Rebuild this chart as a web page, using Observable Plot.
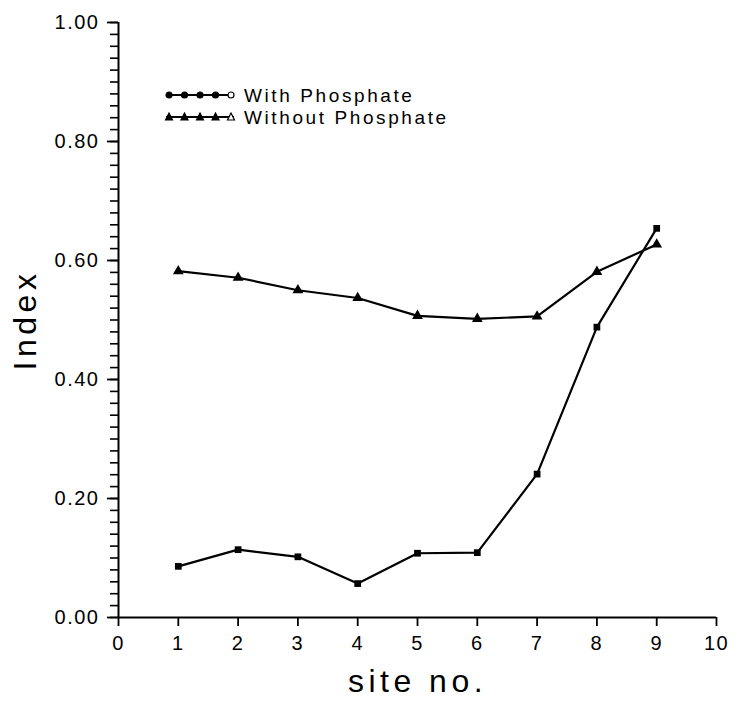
<!DOCTYPE html>
<html>
<head>
<meta charset="utf-8">
<script src="https://cdn.jsdelivr.net/npm/d3@7"></script>
<script src="https://cdn.jsdelivr.net/npm/@observablehq/plot@0.6"></script>
<style>
  body { margin: 0; background: #fff; }
  #wrap { position: relative; width: 739px; height: 704px; font-family: "Liberation Sans", Arial, sans-serif; }
  #wrap svg text { letter-spacing: 1.5px; }
  #wrap svg g[font-size="32"] text { letter-spacing: 4.5px; }
  #legend { position: absolute; left: 164px; top: 84px; font-size: 19px; letter-spacing: 2.6px; color: #000; line-height: 21px; }
  #legend .row { display: flex; align-items: center; height: 22px; }
  #legend svg { margin-right: 8px; }
</style>
</head>
<body>
<div id="wrap">
  <div id="legend"></div>
</div>
<script>
// ---- data ----
const sites = [1, 2, 3, 4, 5, 6, 7, 8, 9];
const withPhosphate = [0.086, 0.114, 0.102, 0.057, 0.108, 0.109, 0.241, 0.488, 0.654];
const withoutPhosphate = [0.582, 0.571, 0.550, 0.537, 0.507, 0.502, 0.506, 0.581, 0.627];
const seriesNames = ["With Phosphate", "Without Phosphate"];
const seriesSymbols = ["square", "triangle"];
const xTicks = [0, 1, 2, 3, 4, 5, 6, 7, 8, 9, 10];
const yMajorTicks = [0, 0.2, 0.4, 0.6, 0.8, 1.0];
const yTickLabels = ["0.00", "0.20", "0.40", "0.60", "0.80", "1.00"];
const yMinorTicks = d3.range(0, 51).map(i => i / 50);
const xLabel = "site no.";
const yLabel = "Index";

const rows = [];
sites.forEach((s, i) => {
  rows.push({site: s, value: withPhosphate[i], series: seriesNames[0]});
  rows.push({site: s, value: withoutPhosphate[i], series: seriesNames[1]});
});

const font = "'Liberation Sans', Arial, sans-serif";

const chart = Plot.plot({
  width: 739,
  height: 704,
  marginLeft: 118,
  marginRight: 23,
  marginTop: 22,
  marginBottom: 87,
  style: {fontFamily: font, background: "#fff", color: "#000"},
  x: {domain: [0, 10]},
  y: {domain: [0, 1]},
  marks: [
    Plot.axisY({ticks: yMinorTicks, tickSize: 8, tickFormat: () => "", label: null, strokeWidth: 1.6}),
    Plot.axisY({ticks: yMajorTicks, tickSize: 11, tickPadding: 8, label: null, fontSize: 20,
      tickFormat: d => yTickLabels[yMajorTicks.findIndex(t => Math.abs(t - d) < 1e-9)], strokeWidth: 1.8}),
    Plot.axisX({ticks: xTicks, tickSize: 9, tickPadding: 9, label: null, fontSize: 20, tickFormat: d => String(d), strokeWidth: 1.8}),
    Plot.ruleX([0], {stroke: "#000", strokeWidth: 2}),
    Plot.ruleY([0], {stroke: "#000", strokeWidth: 2}),
    Plot.line(rows, {x: "site", y: "value", z: "series", stroke: "#000", strokeWidth: 2.2}),
    Plot.dot(rows.filter(d => d.series === seriesNames[0]), {x: "site", y: "value", symbol: "square", r: 3.8, fill: "#000"}),
    Plot.dot(rows.filter(d => d.series === seriesNames[1]), {x: "site", y: "value", symbol: "triangle", r: 4, fill: "#000"}),
    Plot.text([xLabel], {text: d => d, frameAnchor: "bottom", dy: 74, fontSize: 32, fill: "#000"}),
    Plot.text([yLabel], {text: d => d, frameAnchor: "left", textAnchor: "middle", dx: -93, rotate: -90, fontSize: 32, fill: "#000"})
  ]
});
document.getElementById("wrap").prepend(chart);

// ---- legend (HTML overlay inside plot area) ----
const legend = document.getElementById("legend");
seriesNames.forEach((name, k) => {
  const row = document.createElement("div");
  row.className = "row";
  const sym = seriesSymbols[k];
  const ns = "http://www.w3.org/2000/svg";
  const s = document.createElementNS(ns, "svg");
  s.setAttribute("width", 72);
  s.setAttribute("height", 12);
  const ln = document.createElementNS(ns, "line");
  ln.setAttribute("x1", 2); ln.setAttribute("x2", 70);
  ln.setAttribute("y1", 6); ln.setAttribute("y2", 6);
  ln.setAttribute("stroke", "#000"); ln.setAttribute("stroke-width", 2);
  s.appendChild(ln);
  for (let j = 0; j < 5; j++) {
    const cx = 5 + j * 15.5;
    let m;
    if (sym === "square") {
      m = document.createElementNS(ns, "circle");
      m.setAttribute("cx", cx); m.setAttribute("cy", 6); m.setAttribute("r", 3);
    } else {
      m = document.createElementNS(ns, "path");
      m.setAttribute("d", `M${cx},2L${cx + 3.5},9L${cx - 3.5},9Z`);
    }
    m.setAttribute("fill", j === 4 ? "#fff" : "#000");
    m.setAttribute("stroke", "#000");
    m.setAttribute("stroke-width", 1.2);
    s.appendChild(m);
  }
  row.appendChild(s);
  const t = document.createElement("span");
  t.textContent = name;
  row.appendChild(t);
  legend.appendChild(row);
});
</script>
</body>
</html>
